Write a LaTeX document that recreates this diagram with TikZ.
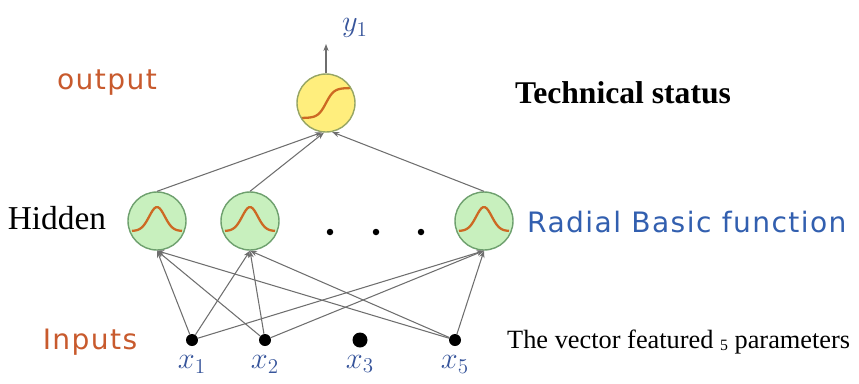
\documentclass[tikz,border=0pt]{standalone}
\usepackage{fontspec}
\setmainfont{Liberation Serif}
\newfontfamily\roundfont[LetterSpace=5]{DejaVu Sans}
\usepackage{xcolor}
\usetikzlibrary{positioning,arrows.meta}

\definecolor{outfill}{RGB}{255,238,125}
\definecolor{outdraw}{RGB}{150,165,100}
\definecolor{hidfill}{RGB}{200,240,190}
\definecolor{hiddraw}{RGB}{110,160,110}
\definecolor{curvecol}{RGB}{205,105,35}
\definecolor{labblue}{RGB}{55,85,155}
\definecolor{rbfblue}{RGB}{50,95,175}
\definecolor{layorange}{RGB}{200,90,45}
\definecolor{wire}{RGB}{110,110,110}

\begin{document}
\begin{tikzpicture}[
    x=0.02cm, y=-0.02cm,
    neuron/.style={circle, draw, line width=0.8pt, minimum size=1.16cm, inner sep=0pt},
    outbox/.style={neuron, fill=outfill, draw=outdraw,
        path picture={\begin{scope}[shift={(path picture bounding box.center)}]
            \draw[curvecol, line width=1.3pt] plot[domain=-26:26, samples=30, smooth] (\x, {-15*tanh(\x/8)});
        \end{scope}}},
    hidbox/.style={neuron, fill=hidfill, draw=hiddraw,
        path picture={\begin{scope}[shift={(path picture bounding box.center)}]
            \draw[curvecol, line width=1.3pt] plot[domain=-25:25, samples=30, smooth] (\x, {10-24*exp(-(\x/11)^2)});
        \end{scope}}},
    indot/.style={circle, fill=black, minimum size=0.24cm, inner sep=0pt},
    gapdot/.style={circle, fill=black, minimum size=0.13cm, inner sep=0pt},
    varlab/.style={text=labblue, font=\fontsize{17}{19}\selectfont, inner sep=1pt},
    layer/.style={text=layorange, font=\roundfont\fontsize{16}{18}\selectfont},
    wirearrow/.style={-{Stealth[length=4pt, width=3pt]}, draw=wire, line width=0.6pt}
]
\useasboundingbox (0,0) rectangle (859,383);

% Nodes
\node (out) [outbox] at (326,103) {};
\node (hid1) [hidbox] at (157,221) {};
\node (hid2) [hidbox] at (250,221) {};
\node (hid3) [hidbox] at (484,221) {};

\node (gap1) [gapdot] at (330,232) {};
\node (gap2) [gapdot] at (376,232) {};
\node (gap3) [gapdot] at (421,232) {};

\node (in1) [indot] at (192,340) {};
\node (in2) [indot] at (265,340) {};
\node (in3) [indot, minimum size=0.3cm] at (360,340) {};
\node (in5) [indot] at (455,340) {};

\node (lx1) [varlab, below=0.14cm of in1] {$x_1$};
\node (lx2) [varlab, below=0.14cm of in2] {$x_2$};
\node (lx3) [varlab, below=0.1cm of in3] {$x_3$};
\node (lx5) [varlab, below=0.14cm of in5] {$x_5$};

\coordinate (top) at (326,44);
\node (ly1) [varlab] at (355,28) {$y_1$};

\node (outtxt) [layer] at (107,83) {output};
\node (status) [font=\bfseries\fontsize{18}{21}\selectfont] at (623,93) {Technical status};
\node (hidtxt) [font=\fontsize{19}{21}\selectfont] at (57,218) {Hidden};
\node (rbf) [text=rbfblue, font=\roundfont\fontsize{16}{18}\selectfont, anchor=west] at (521,222) {Radial Basic function};
\node (intxt) [layer] at (90,342) {Inputs};
\node (vec) [font=\fontsize{15}{17}\selectfont, anchor=west] at (501,342) {The vector featured {\fontsize{9}{10}\selectfont\raisebox{-1pt}{5}} parameters};

% Connections
\draw [wirearrow] (out.north) -- (top);
\draw [wirearrow] (hid1.north) -- (out.262);
\draw [wirearrow] (hid2.north) -- (out.266);
\draw [wirearrow] (hid3.north) -- (out.282);
\foreach \i in {in1,in2,in5}
  \foreach \h in {hid1,hid2,hid3}
    \draw [wirearrow] (\i) -- (\h.south);

\end{tikzpicture}
\end{document}
